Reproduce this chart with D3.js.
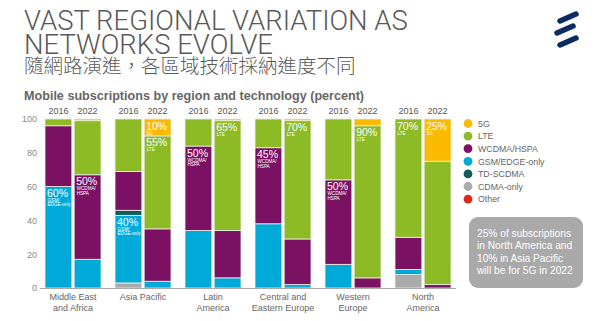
<!DOCTYPE html>
<html>
<head>
<meta charset="utf-8">
<script src="https://cdn.jsdelivr.net/npm/d3@7"></script>
<style>
  body { margin: 0; background: #fff; }
  svg { display: block; }
</style>
</head>
<body>
<svg id="chart" width="600" height="321"></svg>
<script>
// Regions (label lines) and the two years shown for each
const regions = [
  ["Middle East", "and Africa"],
  ["Asia Pacific"],
  ["Latin", "America"],
  ["Central and", "Eastern Europe"],
  ["Western", "Europe"],
  ["North", "America"]
];
const years = ["2016", "2022"];

// Technologies, stacked from the bottom of each bar upwards
const technologies = ["CDMA-only", "GSM/EDGE-only", "TD-SCDMA", "WCDMA/HSPA", "LTE", "5G", "Other"];
const legendOrder = ["5G", "LTE", "WCDMA/HSPA", "GSM/EDGE-only", "TD-SCDMA", "CDMA-only", "Other"];

// Share of subscriptions (%), one value per bar:
// ME&A 2016, 2022, AP 2016, 2022, LatAm 2016, 2022, CEE 2016, 2022, WE 2016, 2022, NA 2016, 2022
const cdmaOnly  = [0, 0, 3, 0, 0, 0, 0, 0, 0, 0, 8, 0];
const gsmEdge   = [60, 17, 40, 4, 34, 6, 38, 2, 14, 0, 3, 0];
const tdScdma   = [0, 0, 3, 0, 0, 0, 0, 0, 0, 0, 0, 0];
const wcdmaHspa = [36, 50, 23, 31, 50, 28, 45, 27, 50, 6, 19, 2];
const lte       = [4, 32, 31, 55, 16, 65, 17, 70, 36, 90, 70, 73];
const fiveG     = [0, 1, 0, 10, 0, 1, 0, 1, 0, 4, 0, 25];
const other     = [0, 0, 0, 0, 0, 0, 0, 0, 0, 0, 0, 0];

const yTicks = [0, 20, 40, 60, 80, 100];

// In-bar callouts: bar index, technology, caption lines
const noteBar  = [0, 1, 2, 3, 3, 4, 5, 6, 7, 8, 9, 10, 11];
const noteTech = ["GSM/EDGE-only", "WCDMA/HSPA", "GSM/EDGE-only", "5G", "LTE", "WCDMA/HSPA", "LTE",
                  "WCDMA/HSPA", "LTE", "WCDMA/HSPA", "LTE", "LTE", "5G"];
const noteCaption = [["GSM/", "EDGE-only"], ["WCDMA/", "HSPA"], ["GSM/", "EDGE-only"], ["5G"], ["LTE"],
                     ["WCDMA/", "HSPA"], ["LTE"], ["WCDMA/", "HSPA"], ["LTE"], ["WCDMA/", "HSPA"],
                     ["LTE"], ["LTE"], ["5G"]];

const boxLines = ["25% of subscriptions", "in North America and", "10% in Asia Pacific", "will be for 5G in 2022"];

const colors = {
  "5G": "#fbb900",
  "LTE": "#8cbb26",
  "WCDMA/HSPA": "#7b1163",
  "GSM/EDGE-only": "#00aad8",
  "TD-SCDMA": "#0f5d5b",
  "CDMA-only": "#aaaaaa",
  "Other": "#e3261c"
};

const seriesByTech = {
  "CDMA-only": cdmaOnly, "GSM/EDGE-only": gsmEdge, "TD-SCDMA": tdScdma,
  "WCDMA/HSPA": wcdmaHspa, "LTE": lte, "5G": fiveG, "Other": other
};

// One row per bar
const rows = [];
regions.forEach((r, ri) => years.forEach((yr, yi) => {
  const idx = ri * 2 + yi;
  const row = { region: ri, year: yr, idx };
  technologies.forEach(t => row[t] = seriesByTech[t][idx]);
  rows.push(row);
}));

const svg = d3.select("#chart");
const sans = "'Liberation Sans', Arial, sans-serif";

// ---- Heading ----
const head = svg.append("g").attr("fill", "#595959");
head.append("text").attr("x", 24).attr("y", 29.5)
  .attr("font-family", "Roboto, 'Liberation Sans', sans-serif").attr("font-weight", 300)
  .attr("font-size", 27.5).text("VAST REGIONAL VARIATION AS");
head.append("text").attr("x", 24).attr("y", 53.5)
  .attr("font-family", "Roboto, 'Liberation Sans', sans-serif").attr("font-weight", 300)
  .attr("font-size", 27.5).text("NETWORKS EVOLVE");
head.append("text").attr("x", 24).attr("y", 73)
  .attr("font-family", "'Noto Sans CJK TC', sans-serif").attr("font-weight", 300)
  .attr("font-size", 19.5).text("隨網路演進，各區域技術採納進度不同");
head.append("text").attr("x", 24).attr("y", 100)
  .attr("font-family", sans).attr("font-weight", "bold")
  .attr("font-size", 12.6).attr("fill", "#666")
  .text("Mobile subscriptions by region and technology (percent)");

// ---- Logo ----
const logo = svg.append("g").attr("stroke", "#0b2b62").attr("stroke-width", 5.5)
  .attr("stroke-linecap", "round");
[[560, 21, 576, 14], [557, 33, 573, 26], [560, 45, 576, 38]].forEach(s => {
  logo.append("line").attr("x1", s[0]).attr("y1", s[1]).attr("x2", s[2]).attr("y2", s[3]);
});

// ---- Scales ----
const x0 = d3.scaleBand().domain(d3.range(regions.length)).range([38, 458])
  .paddingInner(0.2).paddingOuter(0.1);
const x1 = d3.scaleBand().domain(years).range([0, x0.bandwidth()]).paddingInner(0.08);
const y = d3.scaleLinear().domain([0, 100]).range([288, 119]);

const barX = d => x0(d.region) + x1(d.year);

// ---- Y axis labels ----
const yAxis = svg.append("g").attr("transform", "translate(37,0)")
  .call(d3.axisLeft(y).tickValues(yTicks).tickSize(0).tickPadding(0));
yAxis.select(".domain").remove();
yAxis.selectAll("text").attr("font-family", sans).attr("font-size", 9).attr("fill", "#888");

// ---- Stacked bars ----
const stack = d3.stack().keys(technologies)(rows);
svg.append("g").selectAll("g").data(stack).join("g")
  .attr("fill", s => colors[s.key])
  .selectAll("rect").data(s => s.filter(p => p[1] > p[0])).join("rect")
  .attr("x", p => barX(p.data))
  .attr("width", x1.bandwidth())
  .attr("y", p => y(p[1]))
  .attr("height", p => y(p[0]) - y(p[1]))
  .attr("stroke", "#eef0ea").attr("stroke-width", 0.8);

// Baseline
svg.append("line").attr("x1", 40).attr("x2", 456).attr("y1", y(0) + 0.5).attr("y2", y(0) + 0.5)
  .attr("stroke", "#aaa").attr("stroke-width", 1);

// ---- Year labels ----
svg.append("g").selectAll("text").data(rows).join("text")
  .attr("x", d => barX(d) + x1.bandwidth() / 2).attr("y", 114)
  .attr("text-anchor", "middle").attr("font-family", sans).attr("font-size", 9)
  .attr("fill", "#555").text(d => d.year);

// ---- Region labels ----
svg.append("g").selectAll("text").data(regions).join("text")
  .attr("x", (d, i) => x0(i) + x0.bandwidth() / 2)
  .attr("text-anchor", "middle").attr("font-family", sans).attr("font-size", 9)
  .attr("fill", "#666")
  .each(function (lines) {
    d3.select(this).selectAll("tspan").data(lines).join("tspan")
      .attr("x", d3.select(this).attr("x"))
      .attr("y", (l, k) => 300 + k * 11).text(l => l);
  });

// ---- In-bar value callouts ----
noteBar.forEach((b, k) => {
  const t = noteTech[k];
  const row = rows[b];
  const layer = stack.find(s => s.key === t)[b];
  const top = y(layer[1]);
  const gx = barX(row) + 2;
  const g = svg.append("g").attr("fill", "#fff").attr("font-family", sans);
  g.append("text").attr("x", gx).attr("y", top + 10.5).attr("font-size", 10.5)
    .text(seriesByTech[t][b] + "%");
  noteCaption[k].forEach((line, j) => {
    g.append("text").attr("x", gx + 0.5).attr("y", top + 15.5 + j * 4.3)
      .attr("font-size", 4.6).text(line);
  });
});

// ---- Legend ----
const legend = svg.append("g").selectAll("g").data(legendOrder).join("g")
  .attr("transform", (d, i) => `translate(468,${123.5 + i * 12.6})`);
legend.append("circle").attr("r", 4.4).attr("fill", d => colors[d]);
legend.append("text").attr("x", 10).attr("y", 3.2).attr("font-family", sans)
  .attr("font-size", 8.8).attr("fill", "#666").text(d => d);

// ---- Note box ----
svg.append("rect").attr("x", 469).attr("y", 217).attr("width", 114).attr("height", 71)
  .attr("rx", 9).attr("fill", "#a9a9a9");
svg.append("g").selectAll("text").data(boxLines).join("text")
  .attr("x", 477).attr("y", (d, i) => 237 + i * 12.4)
  .attr("font-family", sans).attr("font-size", 10.2).attr("fill", "#fff").text(d => d);
</script>
</body>
</html>
